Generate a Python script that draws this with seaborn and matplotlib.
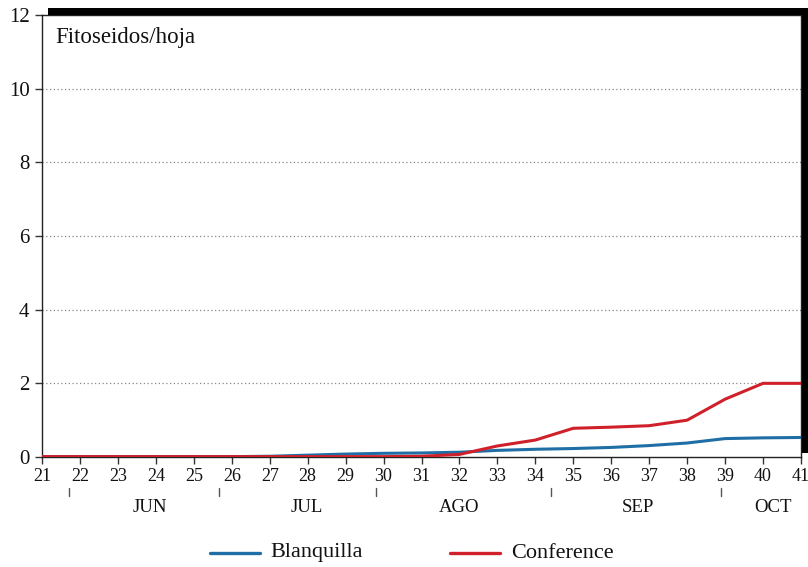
import numpy as np
import pandas as pd
import seaborn as sns
import matplotlib.pyplot as plt
from matplotlib.patches import Rectangle
from matplotlib.lines import Line2D

# Weekly counts of phytoseiid mites per leaf
weeks = list(range(21, 42))
blanquilla = [0.01, 0.01, 0.01, 0.01, 0.01, 0.01, 0.02, 0.05, 0.08, 0.10, 0.11,
              0.13, 0.18, 0.21, 0.23, 0.26, 0.31, 0.38, 0.50, 0.52, 0.53]
conference = [0.01, 0.01, 0.01, 0.01, 0.01, 0.01, 0.01, 0.01, 0.01, 0.01, 0.02,
              0.07, 0.30, 0.46, 0.78, 0.81, 0.85, 1.00, 1.57, 2.00, 2.00]

months = ["JUN", "JUL", "AGO", "SEP", "OCT"]
month_centers = [23.85, 27.97, 32.0, 36.7, 40.26]
month_breaks = [21.7, 25.67, 29.8, 34.4, 38.9]

series_names = ["Blanquilla", "Conference"]
colors = ["#1f6fa6", "#d0202a"]

df = pd.DataFrame({
    "semana": weeks * 2,
    "valor": blanquilla + conference,
    "variedad": [series_names[0]] * len(weeks) + [series_names[1]] * len(weeks),
})

sns.set_theme(style="white")
plt.rcParams["font.family"] = ["Liberation Serif", "DejaVu Serif"]

fig = plt.figure(figsize=(8.08, 5.67), dpi=100)
ax = fig.add_axes([42 / 808, 1 - 457 / 567, (801 - 42) / 808, (457 - 15) / 567])

sns.lineplot(data=df, x="semana", y="valor", hue="variedad",
             palette=dict(zip(series_names, colors)), linewidth=2.2,
             legend=False, ax=ax, zorder=3)

ax.set_xlim(21, 41)
ax.set_ylim(0, 12)
ax.set_xticks(weeks)
ax.set_xticklabels([str(w) for w in weeks], fontsize=13)
ax.set_yticks(range(0, 13, 2))
ax.set_yticklabels([str(v) for v in range(0, 13, 2)], fontsize=15)
ax.set_xlabel("")
ax.set_ylabel("")

for y in range(2, 12, 2):
    ax.axhline(y, color="#888888", linestyle=(0, (1, 2)), linewidth=0.9, zorder=1)

for side in ["left", "bottom", "right", "top"]:
    ax.spines[side].set_visible(True)
    ax.spines[side].set_color("#222222")
    ax.spines[side].set_linewidth(1.0)

ax.tick_params(axis="both", which="both", direction="out", length=5, width=1,
               color="#333333", labelcolor="#111111", bottom=True, left=True)
ax.tick_params(axis="x", pad=3)
ax.tick_params(axis="y", pad=4)

ax.text(13 / 759, 1 - (37.5 - 15) / 442, "Fitoseidos/hoja", transform=ax.transAxes,
        fontsize=16.5, va="center", ha="left", color="#111111")

# Month labels and separators under the week axis
trans = ax.get_xaxis_transform()
for m, c in zip(months, month_centers):
    ax.text(c, -0.115, m, transform=trans, ha="center", va="center",
            fontsize=13.5, color="#111111")
for b in month_breaks:
    ax.add_line(Line2D([b, b], [-0.088, -0.07], transform=trans, color="#555555",
                       linewidth=1.0, clip_on=False))

# Shadow frame on top and right
fig.add_artist(Rectangle((48 / 808, 1 - 15 / 567), (808 - 48) / 808, 7 / 567,
                         transform=fig.transFigure, color="black", lw=0))
fig.add_artist(Rectangle((802 / 808, 1 - 453 / 567), 6 / 808, (453 - 8) / 567,
                         transform=fig.transFigure, color="black", lw=0))

# Legend below the chart
leg_y = 1 - 553 / 567
for (x0, x1, tx), name, c in zip([(210, 260, 270), (450, 500, 511)], series_names, colors):
    fig.add_artist(Line2D([x0 / 808, x1 / 808], [leg_y, leg_y], transform=fig.transFigure,
                          color=c, linewidth=2.4))
    fig.text(tx / 808, leg_y, name, fontsize=16, va="center", ha="left", color="#111111")

fig.savefig("out.png", dpi=100)
